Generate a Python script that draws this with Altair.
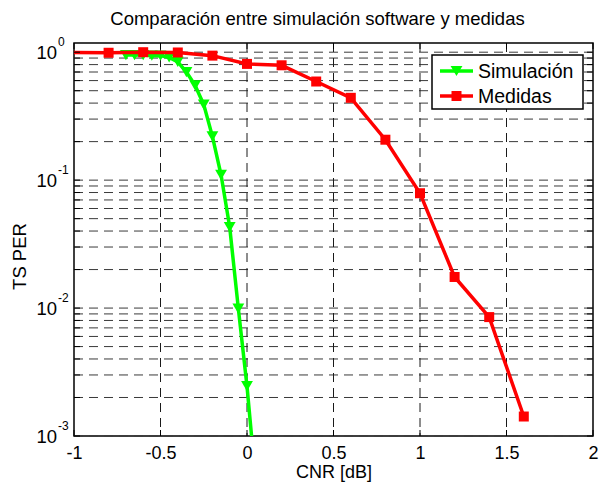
import altair as alt
import pandas as pd

# ---- data ----
sim_x = [-0.70, -0.65, -0.60, -0.55, -0.50, -0.45, -0.40, -0.35, -0.30, -0.25,
         -0.20, -0.15, -0.10, -0.05, 0.00, 0.05]
sim_y = [0.95, 0.95, 0.95, 0.94, 0.94, 0.91, 0.84, 0.70, 0.55, 0.39,
         0.22, 0.11, 0.043, 0.0099, 0.00245, 0.00045]
med_x = [-1.2, -0.8, -0.6, -0.4, -0.2, 0.0, 0.2, 0.4, 0.6, 0.8, 1.0, 1.2, 1.4, 1.6]
med_y = [1.0, 0.99, 1.0, 0.995, 0.94, 0.81, 0.79, 0.59, 0.44, 0.207, 0.079,
         0.0175, 0.0085, 0.00142]
series = ["Simulación", "Medidas"]
colors = ["#00ff00", "#ff0000"]

x_ticks = [-1, -0.5, 0, 0.5, 1, 1.5, 2]
x_grid = [-0.5, 0, 0.5, 1, 1.5]
y_decades = [0.001, 0.01, 0.1, 1]
y_exponents = ["-3", "-2", "-1", "0"]
y_grid = [0.001, 0.002, 0.003, 0.004, 0.005, 0.006, 0.007, 0.008, 0.009,
          0.01, 0.02, 0.03, 0.04, 0.05, 0.06, 0.07, 0.08, 0.09,
          0.1, 0.2, 0.3, 0.4, 0.5, 0.6, 0.7, 0.8, 0.9, 1.0]

TITLE = "Comparación entre simulación software y medidas"
XTITLE = "CNR [dB]"
YTITLE = "TS PER"

W, H = 519, 393
FONT = "Liberation Sans"

sim_df = pd.DataFrame({"x": sim_x, "y": sim_y})
med_df = pd.DataFrame({"x": med_x, "y": med_y})
ygrid_df = pd.DataFrame({"y": y_grid})
xgrid_df = pd.DataFrame({"x": x_grid})
xtick_df = pd.DataFrame({"x": x_ticks})
ylab_df = pd.DataFrame({"y": y_decades, "e": y_exponents})
one = pd.DataFrame({"a": [0]})

xs = alt.Scale(domain=[-1, 2], nice=False, zero=False)
ys = alt.Scale(type="log", domain=[0.001, 1.18], nice=False)

x_axis = alt.Axis(values=x_ticks, labelExpr="datum.value + ''", ticks=False, tickSize=0,
                  domain=False, grid=False, labelFont=FONT, labelFontSize=18,
                  labelColor="black", labelPadding=8, labelFlush=False, labelOverlap=False,
                  title=XTITLE, titleFont=FONT, titleFontSize=18, titleFontWeight="normal",
                  titleColor="black", titleY=36, titleBaseline="middle")
y_axis = alt.Axis(values=y_decades, labels=False, ticks=False, domain=False, grid=False,
                  title=YTITLE, titleFont=FONT, titleFontSize=18.5, titleFontWeight="normal",
                  titleColor="black", titleX=-55, titleY=213, titleBaseline="middle",
                  titleAngle=270)

X = alt.X("x:Q", scale=xs, axis=x_axis)
Y = alt.Y("y:Q", scale=ys, axis=y_axis)

GRID_DASH = [9, 6]

hgrid = alt.Chart(ygrid_df).mark_rule(color="#3a3a3a", strokeWidth=1, strokeDash=GRID_DASH).encode(y=Y)
vgrid = alt.Chart(xgrid_df).mark_rule(color="#1a1a1a", strokeWidth=1, strokeDash=GRID_DASH).encode(x=X)

ytick_l = alt.Chart(ygrid_df).mark_rule(color="black", strokeWidth=1).encode(
    y=Y, x=alt.value(0), x2=alt.value(6))
ytick_r = alt.Chart(ygrid_df).mark_rule(color="black", strokeWidth=1).encode(
    y=Y, x=alt.value(W - 6), x2=alt.value(W))
xtick_b = alt.Chart(xtick_df).mark_rule(color="black", strokeWidth=1).encode(
    x=X, y=alt.value(H - 6), y2=alt.value(H))
xtick_t = alt.Chart(xtick_df).mark_rule(color="black", strokeWidth=1).encode(
    x=X, y=alt.value(0), y2=alt.value(6))

sim_line = alt.Chart(sim_df).mark_line(color=colors[0], strokeWidth=3.5, clip=True).encode(x=X, y=Y)
sim_pts = alt.Chart(sim_df).mark_point(shape="triangle-down", filled=True, size=140,
                                       color=colors[0], opacity=1, clip=True).encode(x=X, y=Y)
med_line = alt.Chart(med_df).mark_line(color=colors[1], strokeWidth=3.5, clip=True).encode(x=X, y=Y)
med_pts = alt.Chart(med_df).mark_point(shape="square", filled=True, size=100,
                                       color=colors[1], opacity=1, clip=True).encode(x=X, y=Y)

# y tick labels 10^k
ylab_base = alt.Chart(ylab_df).mark_text(text="10", font=FONT, fontSize=18.5, align="right",
                                         baseline="alphabetic", dy=7, color="black").encode(
    y=Y, x=alt.value(-17))
ylab_exp = alt.Chart(ylab_df).mark_text(font=FONT, fontSize=12, align="left",
                                        baseline="alphabetic", dy=-6, color="black").encode(
    y=Y, x=alt.value(-16), text="e:N")

# legend
LX0, LX1, LY0, LY1 = 358, 509, 12, 66
ly = [28, 53]
leg_box = alt.Chart(one).mark_rect(fill="white", stroke="black", strokeWidth=1.5).encode(
    x=alt.value(LX0), x2=alt.value(LX1), y=alt.value(LY0), y2=alt.value(LY1))
leg_layers = [leg_box]
shapes = ["triangle-down", "square"]
sizes = [140, 100]
for i in range(2):
    leg_layers.append(alt.Chart(one).mark_rule(color=colors[i], strokeWidth=3.5).encode(
        x=alt.value(366), x2=alt.value(399), y=alt.value(ly[i])))
    leg_layers.append(alt.Chart(one).mark_point(shape=shapes[i], filled=True, size=sizes[i],
                                                color=colors[i], opacity=1).encode(
        x=alt.value(382.5), y=alt.value(ly[i])))
    leg_layers.append(alt.Chart(one).mark_text(text=series[i], font=FONT, fontSize=19.5,
                                               align="left", baseline="middle", dy=1,
                                               color="black").encode(
        x=alt.value(404), y=alt.value(ly[i])))

chart = alt.layer(
    hgrid, vgrid, sim_line, sim_pts, med_line, med_pts,
    ytick_l, ytick_r, xtick_b, xtick_t, ylab_base, ylab_exp, *leg_layers
).properties(
    width=W, height=H,
    title=alt.TitleParams(TITLE, font=FONT, fontSize=18.5, fontWeight="normal", color="black",
                          anchor="middle", dx=-16, offset=8),
    autosize=alt.AutoSizeParams(type="none"),
    padding={"left": 74, "top": 43, "right": 7, "bottom": 46},
    background="white",
).configure_view(stroke="black", strokeWidth=1.5)

chart.save("out.html", embed_options={"renderer": "svg", "actions": False})
